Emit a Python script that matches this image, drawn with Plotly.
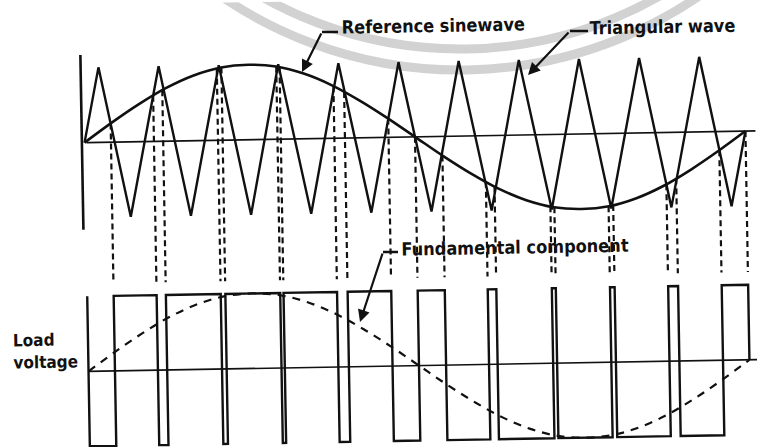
import math
import numpy as np
import plotly.graph_objects as go

W, H = 757, 447
X0, X1 = 86, 747      # pixel of t = 0 and t = 1 (before the scan tilt)
Y0, UNIT = 137.5, 75  # pixel of the top zero line, pixels per unit
TILT_DEG = 1.0        # the scanned page is tilted slightly (right side higher)

# ---- data (time as fraction of one fundamental period) ----
# Reference sinewave, sampled every 15 degrees
ref_t = [0, 0.0417, 0.0833, 0.125, 0.1667, 0.2083, 0.25, 0.2917, 0.3333, 0.375, 0.4167, 0.4583,
         0.5, 0.5417, 0.5833, 0.625, 0.6667, 0.7083, 0.75, 0.7917, 0.8333, 0.875, 0.9167, 0.9583, 1.0]
ref_v = [0, 0.26, 0.5, 0.71, 0.87, 0.97, 1.0, 0.97, 0.87, 0.71, 0.5, 0.26,
         0, -0.26, -0.5, -0.71, -0.87, -0.97, -1.0, -0.97, -0.87, -0.71, -0.5, -0.26, 0]

# Triangular carrier vertices
tri_t = [0, 0.023, 0.068, 0.114, 0.159, 0.205, 0.250, 0.295, 0.341, 0.386, 0.432, 0.477,
         0.523, 0.568, 0.614, 0.659, 0.705, 0.750, 0.795, 0.841, 0.886, 0.932, 0.977, 1.0]
tri_v = [0, 1, -1, 1, -1, 1, -1, 1, -1, 1, -1, 1,
         -1, 1, -1, 1, -1, 1, -1, 1, -1, 1, -1, 0]

# Switching instants of the load voltage (starts low)
switch_t = [0.040, 0.105, 0.119, 0.202, 0.209, 0.292, 0.297, 0.378, 0.394, 0.460, 0.500,
            0.541, 0.606, 0.619, 0.703, 0.709, 0.791, 0.798, 0.879, 0.894, 0.960]

LOAD_BASE = -3.05     # zero line of the load-voltage panel (in units)
CONNECT_END = -1.88   # dashed projection lines stop just above the pulse tops

INK = "#111111"

_s, _c = math.sin(math.radians(TILT_DEG)), math.cos(math.radians(TILT_DEG))
CX, CY = W / 2, H / 2


def unrot(x, y):
    """reference pixel position -> position in the untilted figure"""
    dx, dy = x - CX, y - CY
    return CX + dx * _c - dy * _s, CY + dx * _s + dy * _c


def paper(x, y):
    ux, uy = unrot(x, y)
    return ux / W, 1 - uy / H


fig = go.Figure()

# triangular wave
fig.add_trace(go.Scatter(x=tri_t, y=tri_v, mode="lines",
                         line=dict(color=INK, width=2.4), hoverinfo="skip"))
# reference sinewave
fig.add_trace(go.Scatter(x=ref_t, y=ref_v, mode="lines",
                         line=dict(color=INK, width=2.6, shape="spline"), hoverinfo="skip"))

# load voltage pulses
xs, ys = [0, 0], [1, -1]
level = -1
for s in switch_t:
    xs += [s, s]
    ys += [level, -level]
    level = -level
xs += [1, 1]
ys += [level, 0]
fig.add_trace(go.Scatter(x=xs, y=[v + LOAD_BASE for v in ys], mode="lines",
                         line=dict(color=INK, width=2.4), hoverinfo="skip"))

# fundamental component (dashed)
fig.add_trace(go.Scatter(x=ref_t, y=[v + LOAD_BASE for v in ref_v], mode="lines",
                         line=dict(color=INK, width=2.2, dash="8px,7px", shape="spline"),
                         hoverinfo="skip"))

# dashed projection lines from the crossings down to the pulses
cx, cy = [], []
for s in switch_t + [1.0]:
    cx += [s, s, None]
    cy += [float(np.interp(s, ref_t, ref_v)), CONNECT_END, None]
fig.add_trace(go.Scatter(x=cx, y=cy, mode="lines",
                         line=dict(color=INK, width=2.2, dash="6px,4px"), hoverinfo="skip"))

shapes = []
# zero lines
shapes.append(dict(type="line", xref="x", yref="y", x0=0.003, x1=1.02, y0=0, y1=0,
                   line=dict(color=INK, width=1.6)))
shapes.append(dict(type="line", xref="x", yref="y", x0=0.0, x1=1.02, y0=LOAD_BASE, y1=LOAD_BASE,
                   line=dict(color=INK, width=1.6)))
# vertical axis of the top panel
shapes.append(dict(type="line", xref="x", yref="y", x0=-0.004, x1=-0.004, y0=1.17, y1=-1.16,
                   line=dict(color=INK, width=2.6)))

# watermark arcs (faint grey bands behind the drawing)
wx, wy = unrot(460, -353)
for R in (423, 402):
    shapes.append(dict(type="circle", xref="paper", yref="paper", layer="below",
                       x0=(wx - R) / W, x1=(wx + R) / W, y0=1 - (wy + R) / H, y1=1 - (wy - R) / H,
                       line=dict(color="#d2d2d2", width=9)))

# short horizontal leader stubs
for (a, b, yy) in [(322, 338, 32), (570, 588, 31), (383, 398, 252)]:
    xa, ya = paper(a, yy)
    xb, yb = paper(b, yy)
    shapes.append(dict(type="line", xref="paper", yref="paper", x0=xa, x1=xb,
                       y0=ya, y1=yb, line=dict(color=INK, width=2.4)))

annotations = []
label_font = dict(family="DejaVu Sans Condensed", size=18, color=INK, weight="bold")
for text, x, y in [("Reference sinewave", 340, 27), ("Triangular wave", 588, 28),
                   ("Fundamental component", 399, 249)]:
    ax_, ay_ = paper(x, y)
    annotations.append(dict(text=text, x=ax_, y=ay_, xref="paper", yref="paper",
                            xanchor="left", yanchor="middle", showarrow=False, font=label_font))
lx, ly = paper(11, 351)
annotations.append(dict(text="Load<br>voltage", x=lx, y=ly, xref="paper", yref="paper",
                        xanchor="left", yanchor="middle", align="left", showarrow=False,
                        font=dict(family="DejaVu Sans Condensed", size=17, color=INK, weight="bold")))

# arrow leaders
for tip_x, tip_y, tail_x, tail_y in [(302, 72, 322, 32), (528, 75, 570, 31), (360, 322, 383, 252)]:
    tx, ty = unrot(tip_x, tip_y)
    sx, sy = unrot(tail_x, tail_y)
    annotations.append(dict(text="", x=tx / W, y=1 - ty / H, xref="paper", yref="paper",
                            ax=sx - tx, ay=sy - ty, showarrow=True,
                            arrowhead=2, arrowsize=1.1, arrowwidth=2.2, arrowcolor=INK))

fig.update_layout(
    width=W, height=H,
    margin=dict(l=0, r=0, t=0, b=0),
    paper_bgcolor="white", plot_bgcolor="rgba(0,0,0,0)",
    showlegend=False,
    xaxis=dict(visible=False, range=[(0 - X0) / (X1 - X0), (W - X0) / (X1 - X0)], fixedrange=True),
    yaxis=dict(visible=False, range=[-(H - Y0) / UNIT, Y0 / UNIT], fixedrange=True),
    shapes=shapes,
    annotations=annotations,
)

fig.write_html(
    "out.html",
    config={"displayModeBar": False, "staticPlot": True},
    post_script=(
        "document.body.style.margin='0';document.body.style.padding='0';"
        "document.body.style.overflow='hidden';document.body.style.background='white';"
        "var gd=document.getElementById('{plot_id}');"
        "gd.style.transformOrigin='50% 50%';"
        "gd.style.transform='rotate(-" + str(TILT_DEG) + "deg)';"
    ),
)
